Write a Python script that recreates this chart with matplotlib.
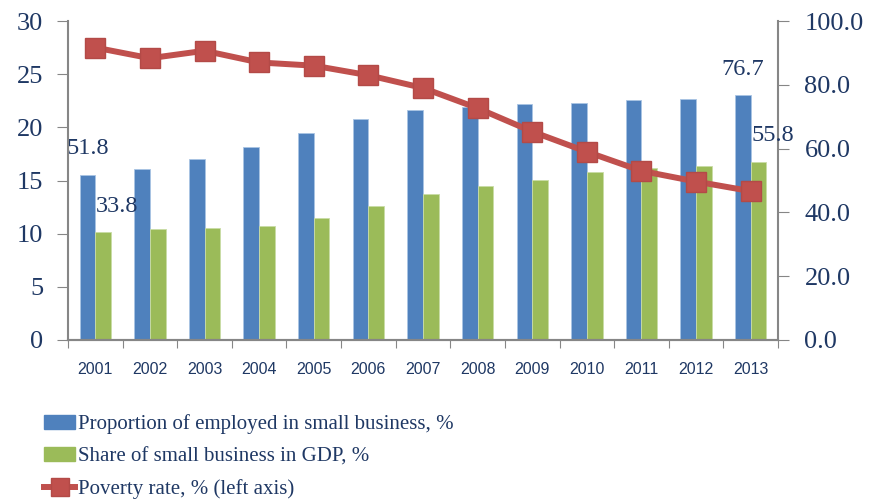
import matplotlib
matplotlib.use('Agg')
import matplotlib.pyplot as plt
import numpy as np
from matplotlib.lines import Line2D
from matplotlib.patches import Patch

years = [str(y) for y in range(2001, 2014)]
employed = [51.8, 53.5, 56.6, 60.4, 64.8, 69.2, 72.1, 73.1, 73.9, 74.3, 75.2, 75.5, 76.7]
gdp_share = [33.8, 34.7, 35.0, 35.6, 38.2, 42.0, 45.8, 48.3, 50.2, 52.6, 54.0, 54.6, 55.8]
poverty = [27.5, 26.5, 27.2, 26.1, 25.8, 24.9, 23.7, 21.8, 19.6, 17.7, 15.9, 14.9, 14.0]

blue = '#4f81bd'
green = '#9bbb59'
red = '#c0504d'
navy = '#1f3864'
spine_c = '#868686'
serif = ['Liberation Serif', 'DejaVu Serif']
narrow = ['Liberation Sans Narrow', 'Liberation Sans', 'DejaVu Sans']

fig = plt.figure(figsize=(8.69, 5), dpi=100)
ax = fig.add_axes([68 / 869, 160 / 500, 710 / 869, 319 / 500])
ax2 = ax.twinx()

x = np.arange(len(years))
w = 0.287
ax2.bar(x - w / 2, employed, w, color=blue, edgecolor='#a9c4e4', linewidth=0.6)
ax2.bar(x + w / 2, gdp_share, w, color=green, edgecolor='#c9dca6', linewidth=0.6)

# line on the left axis, drawn above the bars
ax.plot(x, poverty, color=red, lw=4.3, marker='s', ms=14.5, mfc=red, mec='#b34a47', zorder=3)
ax.set_zorder(ax2.get_zorder() + 1)
ax.patch.set_visible(False)

ax.set_xlim(-0.5, len(years) - 0.5)
ax.set_ylim(0, 30)
ax2.set_ylim(0, 100)
ax.set_yticks(range(0, 31, 5))
ax2.set_yticks(range(0, 101, 20))
ax2.set_yticklabels(['%.1f' % v for v in range(0, 101, 20)])

# category boundaries as ticks, year labels in between
ax.set_xticks(np.arange(-0.5, len(years), 1.0))
ax.set_xticklabels([])
ax.set_xticks(x, minor=True)
ax.set_xticklabels(years, minor=True, fontsize=11.5, color=navy, family=narrow)
ax.tick_params(axis='x', which='major', length=6, color=spine_c, direction='out')
ax.tick_params(axis='x', which='minor', length=0, pad=16)
ax.tick_params(axis='y', length=8, color=spine_c, pad=10, labelsize=19, labelcolor=navy)
ax2.tick_params(axis='y', length=8, color=spine_c, pad=11, labelsize=19, labelcolor=navy)
for lab in ax.get_yticklabels() + ax2.get_yticklabels():
    lab.set_family(serif)

for a in (ax, ax2):
    a.spines['top'].set_visible(False)
    for s in ('left', 'right', 'bottom'):
        a.spines[s].set_color(spine_c)
        a.spines[s].set_linewidth(1.5)
ax.spines['right'].set_visible(False)
ax2.spines['left'].set_visible(False)

# value labels on first and last years
for i in (0, len(years) - 1):
    ax2.annotate('%.1f' % employed[i], (x[i] - w / 2, employed[i]), xytext=(0, 26),
                 textcoords='offset pixels', ha='center', va='center',
                 fontsize=17.5, color=navy, family=serif)
    ax2.annotate('%.1f' % gdp_share[i], (x[i] + w / 2, gdp_share[i]), xytext=(14, 26),
                 textcoords='offset pixels', ha='center', va='center',
                 fontsize=17.5, color=navy, family=serif)

handles = [Patch(color=blue), Patch(color=green),
           Line2D([], [], color=red, lw=4.3, marker='s', ms=13, mfc=red, mec='#b34a47')]
labels = ['Proportion of employed in small business, %',
          'Share of small business in GDP, %',
          'Poverty rate, % (left axis)']
fig.legend(handles, labels, loc='upper left', bbox_to_anchor=(44 / 869, 1 - 414 / 500),
           frameon=False, handlelength=1.5, handleheight=0.65, handletextpad=0.15,
           labelspacing=0.62, borderpad=0, borderaxespad=0,
           prop={'family': serif, 'size': 15},
           labelcolor=navy)

fig.savefig('out.png', dpi=100)
